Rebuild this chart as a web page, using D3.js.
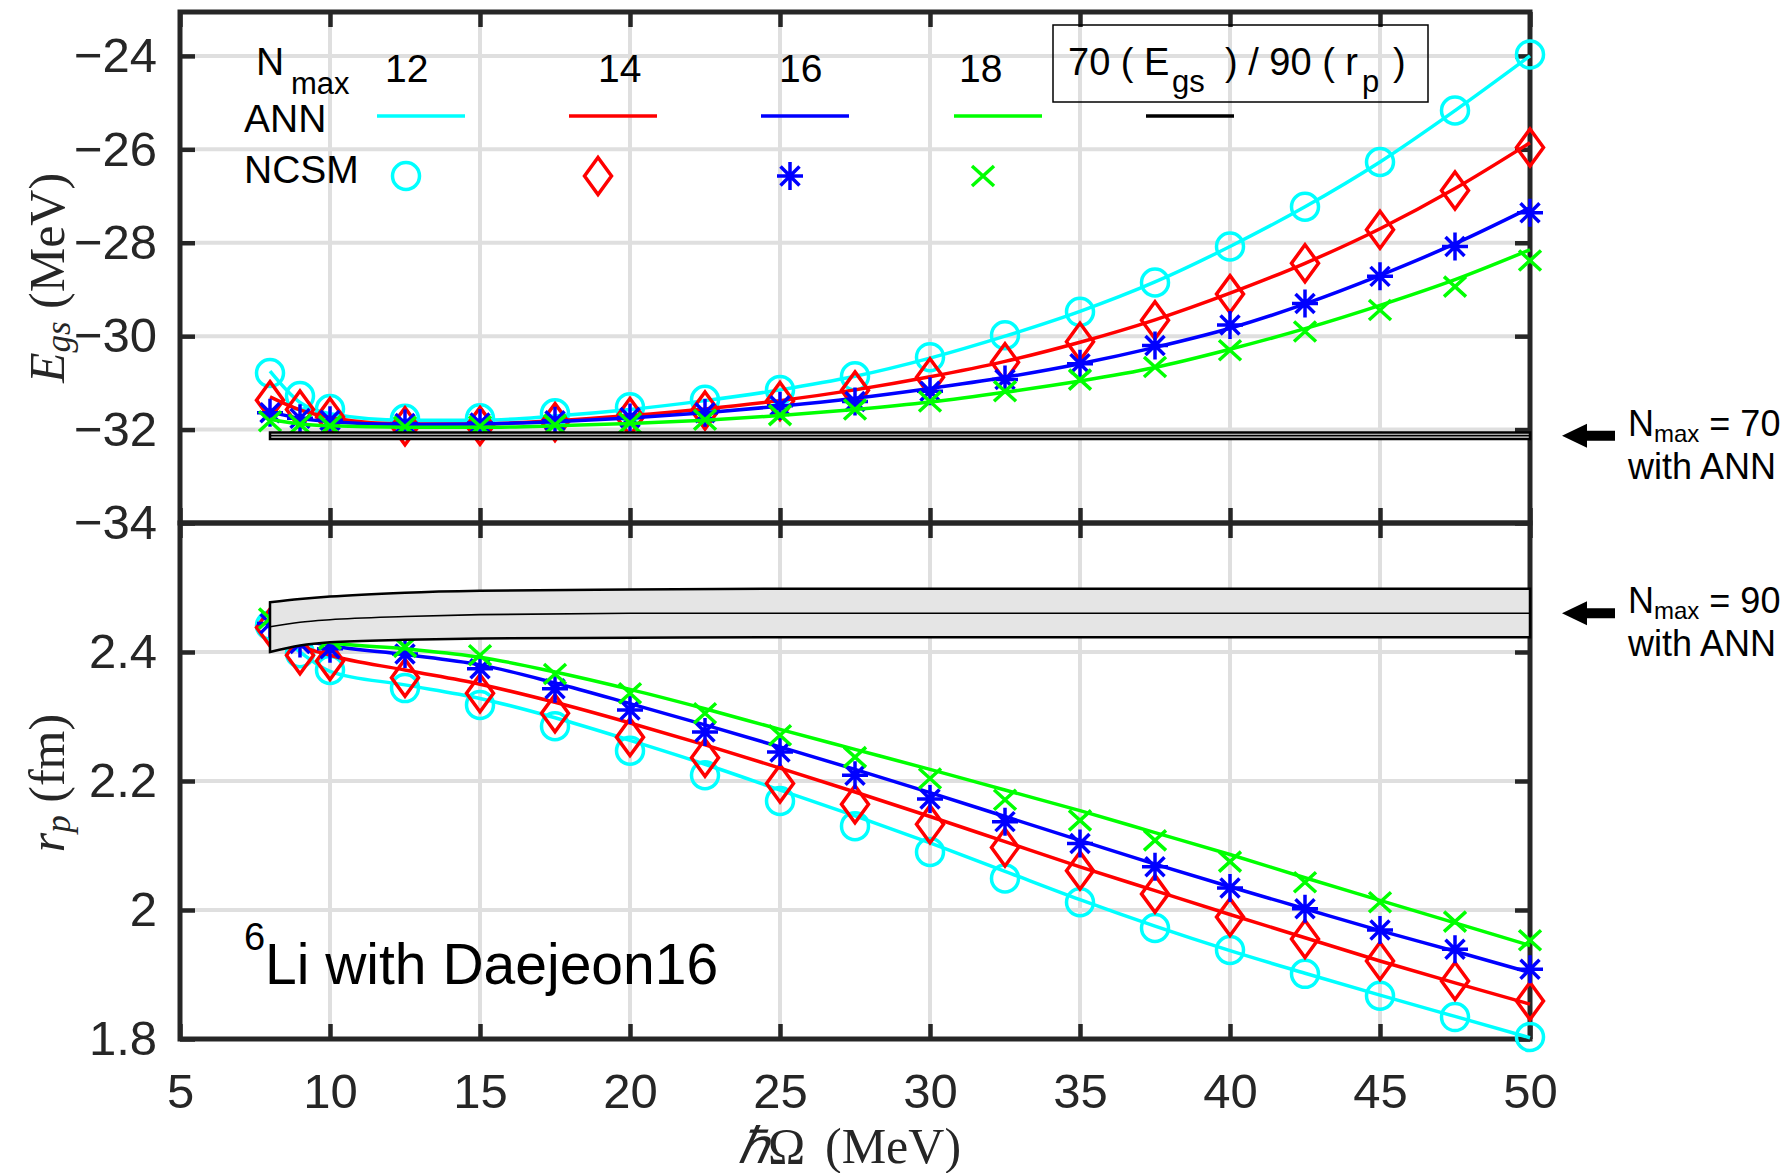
<!DOCTYPE html>
<html>
<head>
<meta charset="utf-8">
<script src="https://cdn.jsdelivr.net/npm/d3@7"></script>
<style>
  body { margin: 0; background: #fff; }
  svg { display: block; }
  text { font-family: "Liberation Sans", Arial, Helvetica, sans-serif; }
  .serif { font-family: "Liberation Serif", "Times New Roman", serif; }
</style>
</head>
<body>
<div id="chart"></div>
<script>
// hbar Omega values (MeV) where NCSM points and ANN curves are given
const hbarOmega = [8, 9, 10, 12.5, 15, 17.5, 20, 22.5, 25, 27.5, 30, 32.5, 35, 37.5, 40, 42.5, 45, 47.5, 50];
const nmaxLabels = ['12', '14', '16', '18'];

// ground state energy (MeV)
const egsNcsm12 = [-30.79, -31.28, -31.56, -31.77, -31.76, -31.65, -31.52, -31.36, -31.15, -30.86, -30.45, -29.98, -29.48, -28.85, -28.08, -27.23, -26.27, -25.17, -23.97];
const egsNcsm14 = [-31.37, -31.57, -31.73, -31.93, -31.92, -31.84, -31.73, -31.59, -31.39, -31.16, -30.88, -30.56, -30.12, -29.66, -29.10, -28.44, -27.72, -26.88, -25.96];
const egsNcsm16 = [-31.64, -31.76, -31.80, -31.87, -31.86, -31.81, -31.74, -31.64, -31.49, -31.40, -31.18, -30.93, -30.59, -30.20, -29.76, -29.30, -28.72, -28.08, -27.36];
const egsNcsm18 = [-31.82, -31.89, -31.92, -31.94, -31.93, -31.90, -31.86, -31.79, -31.69, -31.57, -31.40, -31.18, -30.93, -30.66, -30.30, -29.90, -29.44, -28.94, -28.38];

const egsAnn12 = [-30.75, -31.42, -31.66, -31.80, -31.80, -31.71, -31.57, -31.38, -31.15, -30.86, -30.47, -30.00, -29.47, -28.84, -28.08, -27.23, -26.27, -25.17, -24.00];
const egsAnn14 = [-31.30, -31.58, -31.74, -31.88, -31.88, -31.81, -31.70, -31.56, -31.38, -31.15, -30.87, -30.54, -30.13, -29.65, -29.08, -28.44, -27.70, -26.84, -25.86];
const egsAnn16 = [-31.62, -31.76, -31.83, -31.89, -31.88, -31.83, -31.75, -31.64, -31.50, -31.33, -31.12, -30.88, -30.59, -30.24, -29.83, -29.31, -28.70, -28.02, -27.25];
const egsAnn18 = [-31.78, -31.88, -31.92, -31.95, -31.95, -31.92, -31.87, -31.80, -31.70, -31.57, -31.41, -31.20, -30.96, -30.67, -30.28, -29.84, -29.34, -28.79, -28.15];

// point-proton radius (fm)
const rpNcsm12 = [2.441, 2.398, 2.372, 2.344, 2.318, 2.285, 2.247, 2.209, 2.169, 2.130, 2.090, 2.049, 2.012, 1.972, 1.938, 1.901, 1.867, 1.834, 1.803];
const rpNcsm14 = [2.438, 2.395, 2.386, 2.360, 2.336, 2.305, 2.268, 2.236, 2.196, 2.164, 2.133, 2.097, 2.061, 2.025, 1.989, 1.955, 1.921, 1.890, 1.859];
const rpNcsm16 = [2.444, 2.413, 2.405, 2.397, 2.374, 2.343, 2.310, 2.276, 2.245, 2.209, 2.172, 2.137, 2.103, 2.067, 2.034, 2.002, 1.969, 1.939, 1.908];
const rpNcsm18 = [2.452, 2.432, 2.420, 2.408, 2.395, 2.366, 2.336, 2.305, 2.271, 2.237, 2.204, 2.171, 2.139, 2.108, 2.075, 2.043, 2.012, 1.982, 1.953];

const rpAnn12 = [2.441, 2.400, 2.370, 2.349, 2.328, 2.298, 2.263, 2.226, 2.186, 2.146, 2.104, 2.060, 2.016, 1.975, 1.937, 1.902, 1.868, 1.835, 1.802];
const rpAnn14 = [2.438, 2.410, 2.395, 2.372, 2.350, 2.322, 2.290, 2.256, 2.220, 2.183, 2.145, 2.106, 2.067, 2.030, 1.993, 1.957, 1.921, 1.887, 1.854];
const rpAnn16 = [2.440, 2.420, 2.410, 2.396, 2.380, 2.352, 2.320, 2.287, 2.253, 2.218, 2.182, 2.145, 2.108, 2.071, 2.036, 2.002, 1.968, 1.936, 1.903];
const rpAnn18 = [2.448, 2.428, 2.415, 2.405, 2.392, 2.369, 2.342, 2.312, 2.280, 2.249, 2.218, 2.186, 2.154, 2.120, 2.086, 2.050, 2.015, 1.980, 1.945];

// extrapolated ANN bands (Nmax = 70 for Egs, Nmax = 90 for rp)
const egsBandX = [8, 50];
const egsBandLow = [-32.20, -32.20];
const egsBandMid = [-32.13, -32.13];
const egsBandHigh = [-32.06, -32.06];

const rpBandX = [8, 9, 10, 12.5, 15, 20, 25, 30, 40, 50];
const rpBandLow = [2.400, 2.410, 2.415, 2.419, 2.421, 2.422, 2.423, 2.423, 2.423, 2.423];
const rpBandMid = [2.439, 2.446, 2.450, 2.455, 2.458, 2.460, 2.460, 2.460, 2.460, 2.460];
const rpBandHigh = [2.477, 2.482, 2.486, 2.492, 2.495, 2.497, 2.498, 2.498, 2.498, 2.498];

// ticks
const xTicks = [5, 10, 15, 20, 25, 30, 35, 40, 45, 50];
const egsTicks = [-34, -32, -30, -28, -26, -24];
const rpTicks = [1.8, 2, 2.2, 2.4];

// styles
const colors = ['#00ffff', '#ff0000', '#0000ff', '#00ff00'];
const markers = ['circle', 'diamond', 'star', 'cross'];
const axisColor = '#262626';
const gridColor = '#dfdfdf';

const W = 1790, H = 1173;
const padL = 180, padR = 1530, padT = 12, padM = 523, padB = 1039;

const x = d3.scaleLinear().domain([5, 50]).range([padL, padR]);
const yE = d3.scaleLinear().domain([-34, -23.06]).range([padM, padT]);
const yR = d3.scaleLinear().domain([1.8, 2.6]).range([padB, padM]);

const svg = d3.select('#chart').append('svg')
    .attr('width', W)
    .attr('height', H);

const markerPath = {
    diamond: 'M0,-18.5L13.5,0L0,18.5L-13.5,0Z',
    star: 'M0,-14V14M-13,0H13M-9.5,-9.5L9.5,9.5M-9.5,9.5L9.5,-9.5',
    cross: 'M-11,-10L11,10M-11,10L11,-10'
};

function drawMarker(g, type, color, px, py) {
    if (type === 'circle') {
        g.append('circle').attr('cx', px).attr('cy', py).attr('r', 13.5)
            .attr('fill', 'none').attr('stroke', color).attr('stroke-width', 3.5);
    } else {
        g.append('path').attr('d', markerPath[type])
            .attr('transform', `translate(${px},${py})`)
            .attr('fill', 'none').attr('stroke', color).attr('stroke-width', 3.5);
    }
}

// grid
function drawGrid(y, yVals) {
    const g = svg.append('g').attr('stroke', gridColor).attr('stroke-width', 4);
    const [y0, y1] = y.range();
    g.selectAll('.gx').data(xTicks.slice(1, -1)).join('line')
        .attr('x1', d => x(d)).attr('x2', d => x(d))
        .attr('y1', y1).attr('y2', y0);
    g.selectAll('.gy').data(yVals).join('line')
        .attr('x1', padL).attr('x2', padR)
        .attr('y1', d => y(d)).attr('y2', d => y(d));
}
drawGrid(yE, egsTicks.slice(1));
drawGrid(yR, rpTicks.slice(1));

// axes (ticks inward on all sides)
const tickLen = 15;
const fmtTick = d => String(d).replace('-', '\u2212');
function styleAxis(g, labels) {
    g.select('.domain').remove();
    g.selectAll('.tick line').attr('stroke', axisColor).attr('stroke-width', 4.5);
    if (!labels) g.selectAll('.tick text').remove();
    g.attr('font-size', 49)
        .attr('font-family', '"Liberation Sans", Arial, Helvetica, sans-serif')
        .selectAll('.tick text').attr('fill', axisColor);
}

svg.append('g').attr('transform', `translate(${padL},0)`)
    .call(d3.axisLeft(yE).tickValues(egsTicks).tickSize(-tickLen).tickPadding(23).tickFormat(fmtTick))
    .call(g => styleAxis(g, true));
svg.append('g').attr('transform', `translate(${padR},0)`)
    .call(d3.axisRight(yE).tickValues(egsTicks).tickSize(-tickLen))
    .call(g => styleAxis(g, false));
svg.append('g').attr('transform', `translate(0,${padT})`)
    .call(d3.axisTop(x).tickValues(xTicks).tickSize(-tickLen))
    .call(g => styleAxis(g, false));
svg.append('g').attr('transform', `translate(0,${padM})`)
    .call(d3.axisBottom(x).tickValues(xTicks).tickSize(-tickLen))
    .call(g => styleAxis(g, false));

svg.append('g').attr('transform', `translate(${padL},0)`)
    .call(d3.axisLeft(yR).tickValues(rpTicks).tickSize(-tickLen).tickPadding(23).tickFormat(fmtTick))
    .call(g => styleAxis(g, true));
svg.append('g').attr('transform', `translate(${padR},0)`)
    .call(d3.axisRight(yR).tickValues(rpTicks).tickSize(-tickLen))
    .call(g => styleAxis(g, false));
svg.append('g').attr('transform', `translate(0,${padM})`)
    .call(d3.axisTop(x).tickValues(xTicks).tickSize(-tickLen))
    .call(g => styleAxis(g, false));
svg.append('g').attr('transform', `translate(0,${padB})`)
    .call(d3.axisBottom(x).tickValues(xTicks).tickSize(-tickLen).tickPadding(34).tickFormat(fmtTick))
    .call(g => styleAxis(g, true));

// frames
svg.append('rect').attr('x', padL).attr('y', padT).attr('width', padR - padL).attr('height', padM - padT)
    .attr('fill', 'none').attr('stroke', axisColor).attr('stroke-width', 5);
svg.append('rect').attr('x', padL).attr('y', padM).attr('width', padR - padL).attr('height', padB - padM)
    .attr('fill', 'none').attr('stroke', axisColor).attr('stroke-width', 5);

// series: ANN curve + NCSM markers
function drawSeries(y, annList, ncsmList) {
    const line = d3.line().x((d, i) => x(hbarOmega[i])).y(d => y(d)).curve(d3.curveMonotoneX);
    annList.forEach((ann, k) => {
        const g = svg.append('g');
        g.append('path').attr('d', line(ann))
            .attr('fill', 'none').attr('stroke', colors[k]).attr('stroke-width', 3.5);
        ncsmList[k].forEach((v, i) => drawMarker(g, markers[k], colors[k], x(hbarOmega[i]), y(v)));
    });
}
drawSeries(yE, [egsAnn12, egsAnn14, egsAnn16, egsAnn18], [egsNcsm12, egsNcsm14, egsNcsm16, egsNcsm18]);
drawSeries(yR, [rpAnn12, rpAnn14, rpAnn16, rpAnn18], [rpNcsm12, rpNcsm14, rpNcsm16, rpNcsm18]);

// bands
function drawBand(y, bx, lo, md, hi) {
    const area = d3.area().x((d, i) => x(bx[i])).y0((d, i) => y(lo[i])).y1(d => y(d)).curve(d3.curveMonotoneX);
    const line = d3.line().x((d, i) => x(bx[i])).y(d => y(d)).curve(d3.curveMonotoneX);
    const g = svg.append('g');
    g.append('path').attr('d', area(hi)).attr('fill', '#e5e5e5').attr('stroke', '#000').attr('stroke-width', 2.5);
    g.append('path').attr('d', line(md)).attr('fill', 'none').attr('stroke', '#000').attr('stroke-width', 1.6);
}
drawBand(yE, egsBandX, egsBandLow, egsBandMid, egsBandHigh);
drawBand(yR, rpBandX, rpBandLow, rpBandMid, rpBandHigh);

// legend
const leg = svg.append('g').attr('fill', '#000');
const nm = leg.append('text').attr('font-size', 39);
nm.append('tspan').attr('x', 256).attr('y', 75).text('N');
nm.append('tspan').attr('x', 291).attr('y', 94).attr('font-size', 31).text('max');
leg.append('text').attr('x', 244).attr('y', 132).attr('font-size', 39).text('ANN');
leg.append('text').attr('x', 244).attr('y', 183).attr('font-size', 39).text('NCSM');

const legX = [377, 569, 761, 954];
const legLabelX = [385, 598, 779, 959];
nmaxLabels.forEach((lab, k) => {
    leg.append('text').attr('x', legLabelX[k]).attr('y', 82).attr('font-size', 39).text(lab);
    leg.append('line').attr('x1', legX[k]).attr('x2', legX[k] + 88).attr('y1', 116).attr('y2', 116)
        .attr('stroke', colors[k]).attr('stroke-width', 3.5);
    drawMarker(leg, markers[k], colors[k], legX[k] + 29, 176);
});
leg.append('line').attr('x1', 1146).attr('x2', 1234).attr('y1', 116).attr('y2', 116)
    .attr('stroke', '#000').attr('stroke-width', 3.5);

leg.append('rect').attr('x', 1053).attr('y', 25).attr('width', 375).attr('height', 77)
    .attr('fill', 'none').attr('stroke', '#000').attr('stroke-width', 1.5);
const bt = leg.append('text').attr('font-size', 38);
bt.append('tspan').attr('x', 1068).attr('y', 75).text('70 ( E');
bt.append('tspan').attr('x', 1172).attr('y', 92).attr('font-size', 31).text('gs');
bt.append('tspan').attr('x', 1225).attr('y', 75).text(') / 90 ( r');
bt.append('tspan').attr('x', 1362).attr('y', 92).attr('font-size', 31).text('p');
bt.append('tspan').attr('x', 1393).attr('y', 75).text(')');

// nucleus / interaction label
const li = svg.append('text').attr('fill', '#000');
li.append('tspan').attr('x', 244).attr('y', 950).attr('font-size', 38).text('6');
li.append('tspan').attr('x', 265).attr('y', 984).attr('font-size', 57).text('Li with Daejeon16');

// right side annotations
function annotate(yPos, nmax) {
    const g = svg.append('g').attr('fill', '#000');
    g.append('path').attr('d', `M1562,${yPos}L1587,${yPos - 12}L1587,${yPos - 5}L1615,${yPos - 5}L1615,${yPos + 5}L1587,${yPos + 5}L1587,${yPos + 12}Z`);
    const t = g.append('text').attr('font-size', 36);
    t.append('tspan').attr('x', 1628).attr('y', yPos).text('N');
    t.append('tspan').attr('dy', 6).attr('font-size', 24).text('max');
    t.append('tspan').attr('dy', -6).text(' = ' + nmax);
    g.append('text').attr('x', 1628).attr('y', yPos + 43).attr('font-size', 36).text('with ANN');
}
annotate(yE(egsBandMid[1]), 70);
annotate(yR(rpBandMid[rpBandMid.length - 1]), 90);

// axis titles
const xl = svg.append('text').attr('class', 'serif').attr('font-size', 50).attr('fill', axisColor);
xl.append('tspan').attr('x', 738).attr('y', 1163).attr('font-style', 'italic').text('\u210F');
xl.append('tspan').attr('x', 768).attr('y', 1163).text('\u03A9');
xl.append('tspan').attr('x', 825).attr('y', 1163).text('(MeV)');

const el = svg.append('text').attr('class', 'serif').attr('font-size', 50).attr('fill', axisColor)
    .attr('text-anchor', 'middle').attr('transform', 'translate(64,278) rotate(-90)');
el.append('tspan').attr('font-style', 'italic').text('E');
el.append('tspan').attr('font-style', 'italic').attr('font-size', 35).attr('dy', 6).text('gs');
el.append('tspan').attr('dy', -6).text(' (MeV)');

const rl = svg.append('text').attr('class', 'serif').attr('font-size', 50).attr('fill', axisColor)
    .attr('text-anchor', 'middle').attr('transform', 'translate(64,783) rotate(-90)');
rl.append('tspan').attr('font-style', 'italic').text('r');
rl.append('tspan').attr('font-style', 'italic').attr('font-size', 35).attr('dy', 6).text('p');
rl.append('tspan').attr('dy', -6).text(' (fm)');
</script>
</body>
</html>
